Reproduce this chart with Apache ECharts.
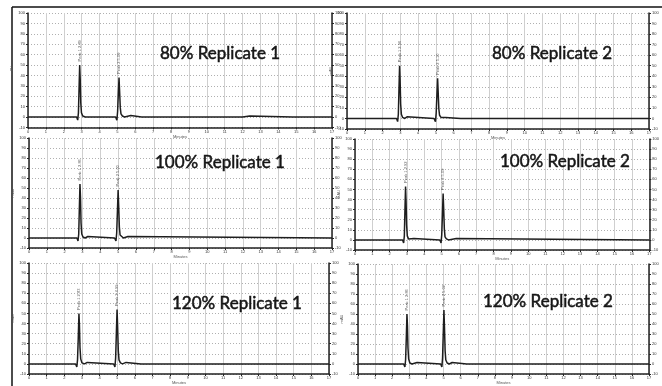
<!DOCTYPE html>
<html><head><meta charset="utf-8">
<script src="https://cdn.jsdelivr.net/npm/echarts@6/dist/echarts.min.js"></script>
<style>html,body{margin:0;padding:0;background:#fff}#c{width:662px;height:386px}</style>
</head><body><div id="c"></div>
<script>
// ---- data (time in min, signal in mAU) ----
const panelTitles = ['80% Replicate 1','80% Replicate 2','100% Replicate 1','100% Replicate 2','120% Replicate 1','120% Replicate 2'];
const xTicks = [0,1,2,3,4,5,6,7,8,9,10,11,12,13,14,15,16,17];
const yTicks = [-10,0,10,20,30,40,50,60,70,80,90,100];
const peakLabels = [['Peak 1 2.89','Peak 2 5.09'],['Peak 1 2.96','Peak 2 5.10'],['Peak 1 2.86','Peak 2 5.00'],['Peak 1 2.92','Peak 2 5.09'],['Peak 1 2.83','Peak 2 4.99'],['Peak 1 2.86','Peak 2 5.02']];
const peakTimes = [[2.89,5.09],[2.96,5.10],[2.86,5.00],[2.92,5.09],[2.83,4.99],[2.86,5.02]];
const peakHeights = [[50,38],[50,38],[54,48],[53,46],[50,54],[50,54]];

const trace80r1 = [[0,0],[2.0,0],[2.05,1],[2.1,0],[2.72,0],[2.78,-3],[2.82,4],[2.85,24],[2.89,50],[2.92,36],[2.95,14],[2.99,4],[3.06,1],[3.2,0],[3.3,1.5],[3.4,0],
 [4.9,0],[4.97,-3],[5.01,5],[5.05,22],[5.09,38],[5.12,26],[5.16,9],[5.2,3],[5.28,1],[5.4,0],[5.75,1.5],[5.82,0],[6.35,0],[6.45,1],[6.6,0],[9.55,0],[9.62,1],[9.7,0],[12.0,0],[12.05,1],[12.4,1],[12.5,0],[14.8,0],[14.9,1],[15.1,0],[17,0]];
const trace80r2 = [[0,0],[1.95,0],[2.0,1],[2.1,0],[2.79,0],[2.85,-3],[2.89,4],[2.92,24],[2.96,50],[2.99,36],[3.02,14],[3.06,4],[3.13,1],[3.25,0],[3.38,1.5],[3.48,0],
 [4.9,0],[4.98,-3],[5.02,5],[5.06,22],[5.10,38],[5.13,26],[5.17,9],[5.21,3],[5.29,1],[5.4,0],[5.55,1],[5.65,0],[6.4,0],[6.5,1],[6.6,0],[9.55,0],[9.6,1],[9.7,0],[9.95,0],[10.0,1],[10.1,0],[17,0]];
const trace100r1 = [[0,0],[2.69,0],[2.75,-3],[2.79,4],[2.82,26],[2.86,54],[2.89,40],[2.92,15],[2.96,4],[3.03,1],[3.15,0],[3.3,1.5],[3.4,0],
 [4.8,0],[4.88,-3],[4.92,5],[4.96,26],[5.00,48],[5.03,33],[5.07,11],[5.11,3],[5.19,1],[5.3,0],[5.55,1.5],[5.65,0],[17,0]];
const trace100r2 = [[0,0],[2.75,0],[2.81,-3],[2.85,4],[2.88,26],[2.92,53],[2.95,38],[2.98,15],[3.02,4],[3.09,1],[3.2,0],[3.4,1.5],[3.5,0],
 [4.9,0],[4.97,-3],[5.01,5],[5.05,25],[5.09,46],[5.12,32],[5.16,11],[5.2,3],[5.28,1],[5.4,0],[5.85,1.5],[5.95,0],[17,0]];
const trace120r1 = [[0,0],[1.95,0],[2.0,1],[2.1,0],[2.64,0],[2.71,-3],[2.75,4],[2.79,25],[2.83,50],[2.86,38],[2.89,16],[2.93,5],[3.0,1],[3.15,0],[3.3,1.5],[3.4,0],
 [4.8,0],[4.87,-3],[4.91,6],[4.95,30],[4.99,54],[5.02,38],[5.06,13],[5.1,4],[5.18,1],[5.3,0],[5.5,1.5],[5.6,0],[6.35,0],[6.45,1],[6.55,0],[9.45,0],[9.55,1],[9.65,0],[11.9,0],[12.0,1],[12.2,0],[14.75,0],[14.85,1],[15.0,0],[17,0]];
const trace120r2 = [[0,0],[2.0,0],[2.05,1],[2.12,0],[2.67,0],[2.74,-3],[2.78,4],[2.82,25],[2.86,50],[2.89,38],[2.92,16],[2.96,5],[3.03,1],[3.15,0],[3.45,1.5],[3.55,0],
 [4.83,0],[4.9,-3],[4.94,6],[4.98,30],[5.02,54],[5.05,38],[5.09,13],[5.13,4],[5.21,1],[5.33,0],[5.5,1.5],[5.6,0],[6.35,0],[6.45,1],[6.6,0],[9.05,0],[9.15,1],[9.3,0],[11.95,0],[12.05,1],[12.15,0],[14.75,0],[14.85,1],[15.0,0],[17,0]];
const traces = [trace80r1,trace80r2,trace100r1,trace100r2,trace120r1,trace120r2];

// ---- layout ----
const layout = [
  {l:28, t:13, w:304, h:114.4, tx:155, ty:40},
  {l:347,t:13, w:302, h:116,   tx:487, ty:40},
  {l:29, t:138,w:303, h:110,   tx:150, ty:149},
  {l:355,t:139,w:297, h:111,   tx:495, ty:148},
  {l:29, t:263,w:300, h:121,   tx:167, ty:290},
  {l:358,t:264,w:291, h:115.5, tx:478, ty:288}
];
const ink = '#222';
const grids=[], xAxes=[], yAxes=[], series=[], titles=[];
layout.forEach((g,i)=>{
  grids.push({left:g.l, top:g.t, width:g.w, height:g.h});
  titles.push({text:panelTitles[i], left:g.tx, top:g.ty, textStyle:{fontFamily:'Lato', fontSize:17, fontWeight:'normal', color:'#161616', textBorderColor:'#161616', textBorderWidth:0.5}});
  xAxes.push({type:'value', gridIndex:i, min:xTicks[0], max:xTicks[xTicks.length-1], interval:1,
    axisLine:{onZero:false, lineStyle:{color:ink, width:1.5}},
    axisTick:{show:true, length:2, lineStyle:{color:ink}},
    axisLabel:{fontSize:4, color:'#333', margin:2},
    splitLine:{show:true, lineStyle:{color:'#cfcfcf', width:1}},
    name:'Minutes', nameLocation:'middle', nameGap:7, nameTextStyle:{fontSize:4, color:'#555'}});
  const yBase = {type:'value', gridIndex:i, min:yTicks[0], max:yTicks[yTicks.length-1], interval:10,
    axisLine:{show:true, lineStyle:{color:ink, width:1.5}},
    axisTick:{show:true, length:2, lineStyle:{color:ink}},
    axisLabel:{fontSize:4, color:'#333', margin:3}};
  yAxes.push(Object.assign({}, yBase, {position:'left',
    splitLine:{show:true, lineStyle:{color:'#b0b0b0', type:[1,2], width:1}},
    name:'mAU', nameLocation:'middle', nameGap:14, nameTextStyle:{fontSize:4, color:'#555'}}));
  yAxes.push(Object.assign({}, yBase, {position:'right', splitLine:{show:false}}));
  series.push({type:'line', xAxisIndex:i, yAxisIndex:i*2, data:traces[i], showSymbol:false, symbol:'none',
    lineStyle:{color:'#1e1e1e', width:1.5}, silent:true, animation:false, z:3});
  series.push({type:'scatter', xAxisIndex:i, yAxisIndex:i*2, symbolSize:1, itemStyle:{color:'rgba(0,0,0,0)'}, silent:true, animation:false, z:4,
    data:peakTimes[i].map((t,k)=>({value:[t,peakHeights[i][k]], label:{show:true, formatter:peakLabels[i][k]}})),
    label:{show:true, rotate:90, position:'top', distance:3, align:'left', verticalAlign:'middle', fontSize:4, color:'#333'}});
});

const chart = echarts.init(document.getElementById('c'), null, {renderer:'canvas'});
chart.setOption({
  backgroundColor:'#fff', animation:false,
  title:titles, grid:grids, xAxis:xAxes, yAxis:yAxes, series:series,
  graphic:[
    {type:'line', shape:{x1:12,y1:7,x2:662,y2:7}, style:{stroke:'#111', lineWidth:1.5}},
    {type:'line', shape:{x1:12,y1:7,x2:12,y2:386}, style:{stroke:'#111', lineWidth:1.5}}
  ]
});
</script></body></html>
